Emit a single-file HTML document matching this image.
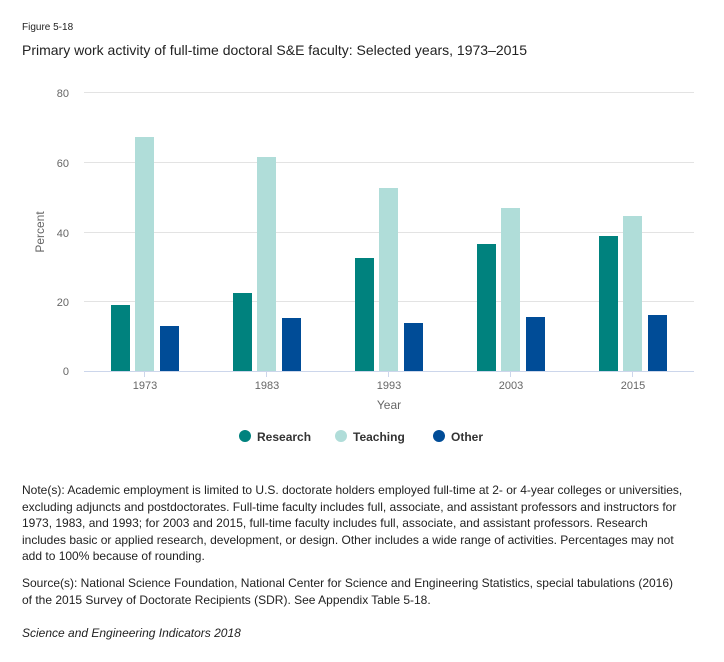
<!DOCTYPE html>
<html><head><style>
body{margin:0;background:#fff;width:724px;height:662px;overflow:hidden;font-family:"Liberation Sans",sans-serif;}
.t{position:absolute;color:#222;}
</style></head><body>
<div class="t" style="left:22px;top:22px;font-size:10px;">Figure 5-18</div>
<div class="t" style="left:22px;top:42px;font-size:14px;">Primary work activity of full-time doctoral S&amp;E faculty: Selected years, 1973–2015</div>
<svg style="position:absolute;left:0;top:0" width="724" height="460" font-family="Liberation Sans, sans-serif">
<g stroke="#e3e3e3" stroke-width="1">
<line x1="84" x2="694" y1="92.5" y2="92.5"/><line x1="84" x2="694" y1="162.5" y2="162.5"/>
<line x1="84" x2="694" y1="232.5" y2="232.5"/><line x1="84" x2="694" y1="301.5" y2="301.5"/>
</g>
<g font-size="11" fill="#666" text-anchor="end">
<text x="69" y="97">80</text><text x="69" y="167">60</text><text x="69" y="237">40</text><text x="69" y="306">20</text><text x="69" y="375">0</text>
</g>
<text transform="translate(44,232) rotate(-90)" font-size="12" fill="#666" text-anchor="middle">Percent</text>
<g id="bars">
<rect x="111" y="305" width="19" height="66" fill="#00827e"/><rect x="135" y="137" width="19" height="234" fill="#b0ddd9"/><rect x="160" y="326" width="19" height="45" fill="#004c97"/>
<rect x="233" y="293" width="19" height="78" fill="#00827e"/><rect x="257" y="157" width="19" height="214" fill="#b0ddd9"/><rect x="282" y="318" width="19" height="53" fill="#004c97"/>
<rect x="355" y="258" width="19" height="113" fill="#00827e"/><rect x="379" y="188" width="19" height="183" fill="#b0ddd9"/><rect x="404" y="323" width="19" height="48" fill="#004c97"/>
<rect x="477" y="244" width="19" height="127" fill="#00827e"/><rect x="501" y="208" width="19" height="163" fill="#b0ddd9"/><rect x="526" y="317" width="19" height="54" fill="#004c97"/>
<rect x="599" y="236" width="19" height="135" fill="#00827e"/><rect x="623" y="216" width="19" height="155" fill="#b0ddd9"/><rect x="648" y="315" width="19" height="56" fill="#004c97"/>
</g>
<line x1="84" x2="694" y1="371.5" y2="371.5" stroke="#ccd6eb"/>
<g stroke="#ccd6eb"><line x1="144.5" x2="144.5" y1="371" y2="377"/><line x1="266.5" x2="266.5" y1="371" y2="377"/><line x1="388.5" x2="388.5" y1="371" y2="377"/><line x1="510.5" x2="510.5" y1="371" y2="377"/><line x1="632.5" x2="632.5" y1="371" y2="377"/></g>
<g font-size="11" fill="#666" text-anchor="middle">
<text x="145" y="389">1973</text><text x="267" y="389">1983</text><text x="389" y="389">1993</text><text x="511" y="389">2003</text><text x="633" y="389">2015</text>
</g>
<text x="389" y="409" font-size="12" fill="#666" text-anchor="middle">Year</text>
<g font-size="12" font-weight="bold" fill="#333">
<circle cx="245" cy="436" r="6" fill="#00827e"/><text x="257" y="441">Research</text>
<circle cx="341" cy="436" r="6" fill="#b0ddd9"/><text x="353" y="441">Teaching</text>
<circle cx="439" cy="436" r="6" fill="#004c97"/><text x="451" y="441">Other</text>
</g>
</svg>
<div class="t" style="left:22px;top:482px;width:668px;font-size:12px;line-height:16.5px;">Note(s): Academic employment is limited to U.S. doctorate holders employed full-time at 2- or 4-year colleges or universities, excluding adjuncts and postdoctorates. Full-time faculty includes full, associate, and assistant professors and instructors for 1973, 1983, and 1993; for 2003 and 2015, full-time faculty includes full, associate, and assistant professors. Research includes basic or applied research, development, or design. Other includes a wide range of activities. Percentages may not add to 100% because of rounding.</div>
<div class="t" style="left:22px;top:575px;width:655px;font-size:12px;line-height:16.5px;">Source(s): National Science Foundation, National Center for Science and Engineering Statistics, special tabulations (2016) of the 2015 Survey of Doctorate Recipients (SDR). See Appendix Table 5-18.</div>
<div class="t" style="left:22px;top:626px;font-size:12px;font-style:italic;">Science and Engineering Indicators 2018</div>
</body></html>
